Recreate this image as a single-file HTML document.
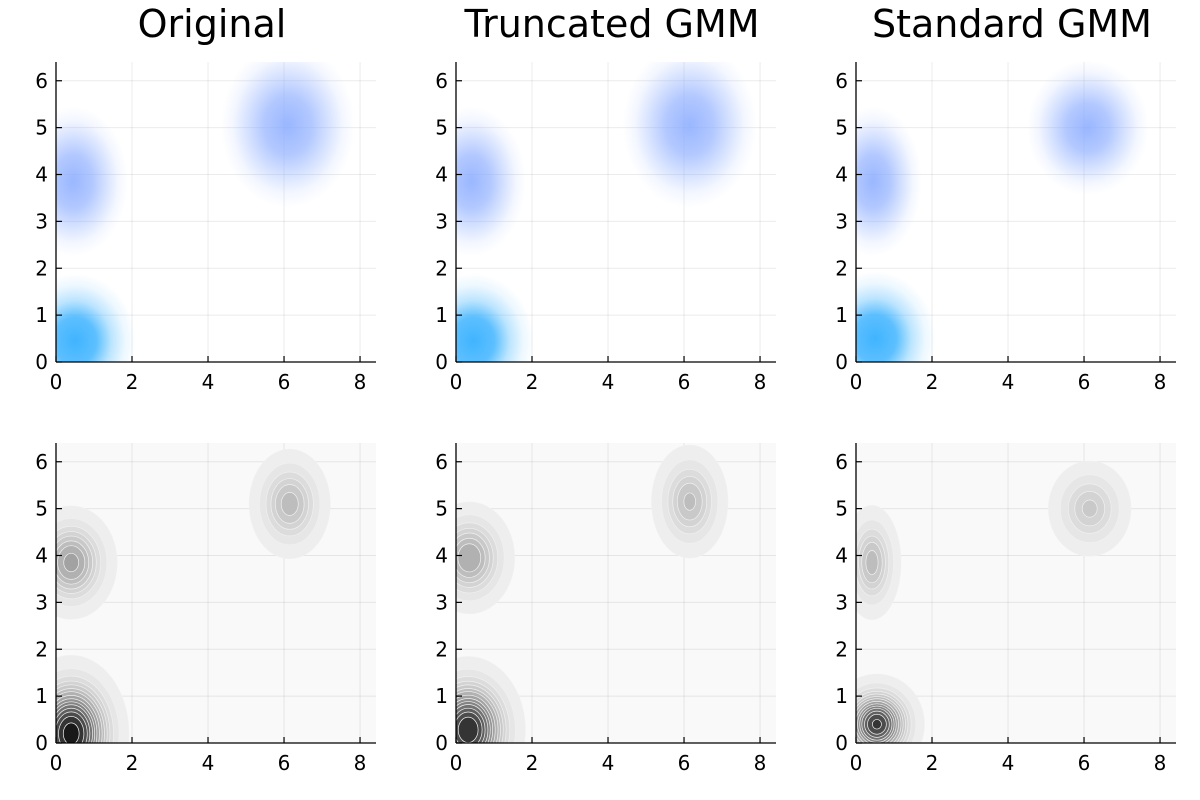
<!DOCTYPE html>
<html><head><meta charset="utf-8">
<style>
html,body{margin:0;padding:0;background:#fff;}
svg{display:block;font-family:"DejaVu Sans","Liberation Sans",sans-serif;}
</style></head>
<body>
<svg id="fig" width="1200" height="800" viewBox="0 0 1200 800"></svg>
<script>
// ---- data ----
const panelTitles = ["Original", "Truncated GMM", "Standard GMM"];
const xTicks = [0, 2, 4, 6, 8];
const yTicks = [0, 1, 2, 3, 4, 5, 6];
// scatter clusters per panel
const scatterCX = [[0.5, 0.45, 6.1], [0.45, 0.4, 6.15], [0.5, 0.45, 6.1]];
const scatterCY = [[0.45, 3.85, 5.05], [0.45, 3.85, 5.05], [0.5, 3.85, 5.0]];
const scatterSX = [[0.5, 0.45, 0.55], [0.5, 0.45, 0.55], [0.5, 0.4, 0.5]];
const scatterSY = [[0.45, 0.5, 0.55], [0.45, 0.5, 0.55], [0.45, 0.5, 0.45]];
// density components per panel
const densCX = [[0.4, 0.4, 6.15], [0.32, 0.35, 6.15], [0.55, 0.42, 6.15]];
const densCY = [[0.2, 3.85, 5.1], [0.28, 3.95, 5.15], [0.4, 3.85, 5.0]];
const densSX = [[0.5, 0.45, 0.42], [0.5, 0.45, 0.4], [0.42, 0.3, 0.45]];
const densSY = [[0.55, 0.45, 0.46], [0.52, 0.45, 0.48], [0.36, 0.48, 0.42]];
const densPeak = [[0.6, 0.22, 0.15], [0.55, 0.2, 0.14], [0.5, 0.15, 0.11]];
const levels = [0.006, 0.025, 0.05, 0.075, 0.1, 0.13, 0.16, 0.2, 0.24, 0.28, 0.32, 0.37, 0.42, 0.48, 0.55];

// ---- layout ----
const NS = "http://www.w3.org/2000/svg";
const svg = document.getElementById("fig");
const colX = [56, 456, 856];
const rowBottom = [362, 743];
const PW = 320, PH = 300, XMAX = 8.42, YMAX = 6.4;
function mk(tag, attrs, parent) { const e = document.createElementNS(NS, tag); for (const k in attrs) e.setAttribute(k, attrs[k]); (parent || svg).appendChild(e); return e; }
const defs = mk("defs", {});
let gid = 0;

function drawAxes(g, x0, yb, bg) {
  const sx = v => x0 + v / XMAX * PW, sy = v => yb - v / YMAX * PH;
  if (bg) mk("rect", { x: x0, y: yb - PH, width: PW, height: PH, fill: "#f9f9f9" }, g);
  xTicks.forEach(t => { mk("line", { x1: sx(t), x2: sx(t), y1: yb, y2: yb - PH, stroke: "#000", "stroke-opacity": 0.08, "stroke-width": 1 }, g); });
  yTicks.forEach(t => { mk("line", { x1: x0, x2: x0 + PW, y1: sy(t), y2: sy(t), stroke: "#000", "stroke-opacity": 0.08, "stroke-width": 1 }, g); });
  return { sx, sy };
}
function drawFrame(g, x0, yb) {
  const sx = v => x0 + v / XMAX * PW, sy = v => yb - v / YMAX * PH;
  const ax = mk("g", {}, g);
  
  
  mk("line", { x1: x0, x2: x0 + PW, y1: yb, y2: yb, stroke: "#000", "stroke-width": 1.3 }, ax);
  mk("line", { x1: x0, x2: x0, y1: yb, y2: yb - PH, stroke: "#000", "stroke-width": 1.3 }, ax);
  xTicks.forEach(t => {
    mk("line", { x1: sx(t), x2: sx(t), y1: yb, y2: yb - 6, stroke: "#000", "stroke-width": 1.2 }, ax);
    const tx = mk("text", { x: sx(t), y: yb + 27, "font-size": 20, "text-anchor": "middle", fill: "#000" }, ax);
    
    
    tx.textContent = t;
  });
  yTicks.forEach(t => {
    mk("line", { x1: x0, x2: x0 + 6, y1: sy(t), y2: sy(t), stroke: "#000", "stroke-width": 1.2 }, ax);
    const ty = mk("text", { x: x0 - 8, y: sy(t) + 7, "font-size": 20, "text-anchor": "end", fill: "#000" }, ax);
    
    
    ty.textContent = t;
  });
}
function clipFor(x0, yb) {
  const id = "c" + (gid++);
  const cp = mk("clipPath", { id }, defs);
  mk("rect", { x: x0, y: yb - PH, width: PW, height: PH }, cp);
  return id;
}
function grey(l) { const v = Math.round(240 - Math.min(1, l / 0.55) * 215); return `rgb(${v},${v},${v})`; }

for (let p = 0; p < 3; p++) {
  const x0 = colX[p];
  const tt = mk("text", { x: x0 + PW / 2 - 4, y: 37, "font-size": 38, "text-anchor": "middle", fill: "#000" });
  
  
  tt.textContent = panelTitles[p];

  // ---- top scatter ----
  const gT = mk("g", {});
  
  
  const a = drawAxes(gT, x0, rowBottom[0], false);
  const ct = clipFor(x0, rowBottom[0]);
  const pts = mk("g", { "clip-path": `url(#${ct})` }, gT);
  for (let k = 0; k < scatterCX[p].length; k++) {
    const id = "rg" + (gid++);
    const rg = mk("radialGradient", { id }, defs);
    const col = k === 0 ? "#40b4ff" : "#88aaff";
    mk("stop", { offset: "0", "stop-color": col, "stop-opacity": k === 0 ? 1 : 0.85 }, rg);
    mk("stop", { offset: "0.35", "stop-color": col, "stop-opacity": k === 0 ? 0.85 : 0.65 }, rg);
    mk("stop", { offset: "0.6", "stop-color": col, "stop-opacity": 0.35 }, rg);
    mk("stop", { offset: "0.82", "stop-color": col, "stop-opacity": 0.1 }, rg);
    mk("stop", { offset: "1", "stop-color": col, "stop-opacity": 0 }, rg);
    const e = mk("ellipse", { cx: a.sx(scatterCX[p][k]), cy: a.sy(scatterCY[p][k]), rx: scatterSX[p][k] * 3.2 / XMAX * PW, ry: scatterSY[p][k] * 3.2 / YMAX * PH, fill: `url(#${id})` }, pts);
    
    
  }
  drawFrame(gT, x0, rowBottom[0]);

  // ---- bottom contours ----
  const gB = mk("g", {});
  
  
  const b = drawAxes(gB, x0, rowBottom[1], true);
  const cb = clipFor(x0, rowBottom[1]);
  const cg = mk("g", { "clip-path": `url(#${cb})` }, gB);
  for (let k = 0; k < densCX[p].length; k++) {
    const pk = densPeak[p][k];
    levels.forEach(l => {
      if (l >= pk) return;
      const r = Math.sqrt(2 * Math.log(pk / l));
      const e = mk("ellipse", { cx: b.sx(densCX[p][k]), cy: b.sy(densCY[p][k]), rx: r * densSX[p][k] / XMAX * PW, ry: r * densSY[p][k] / YMAX * PH, fill: grey(l), stroke: "#f0f0f0", "stroke-width": 0.7 }, cg);
      
      
    });
  }
  drawFrame(gB, x0, rowBottom[1]);
}
</script>
</body></html>
